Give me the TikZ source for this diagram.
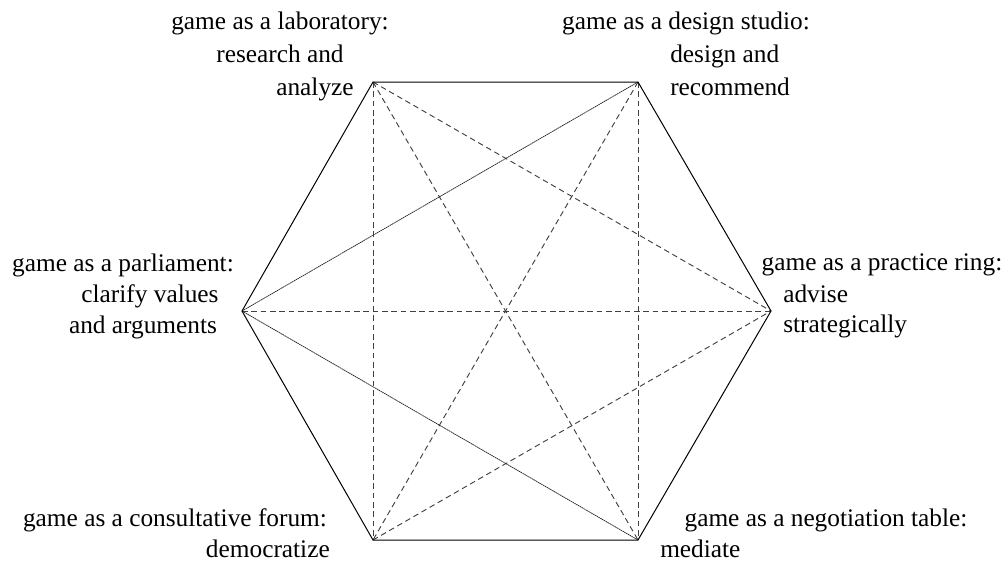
\documentclass[tikz,border=0pt]{standalone}
\usepackage{fontspec}
\setmainfont{Liberation Serif}
\begin{document}
\begin{tikzpicture}[x=0.75pt,y=-0.75pt,
  edge/.style={black,line width=0.75pt},
  dashlink/.style={black!75,line width=0.7pt,dash pattern=on 4.2pt off 2.8pt},
  finelink/.style={black!85,line width=0.55pt,dash pattern=on 1.2pt off 0.4pt},
  lbl/.style={inner sep=0pt,font=\fontsize{19}{23}\selectfont}]
\useasboundingbox (0,0) rectangle (1008,562);
\coordinate (TL) at (373,82);
\coordinate (TR) at (638,82);
\coordinate (R) at (771,311);
\coordinate (BR) at (638,540);
\coordinate (BL) at (373,540);
\coordinate (L) at (242,311);
% diagonals
\draw[dashlink] (TL) -- (BL);
\draw[dashlink] (TR) -- (BR);
\draw[dashlink] (TL) -- (R);
\draw[dashlink] (TL) -- (BR);
\draw[dashlink] (TR) -- (BL);
\draw[dashlink] (BL) -- (R);
\draw[dashlink] (L) -- (R);
\draw[finelink] (L) -- (TR);
\draw[finelink] (L) -- (BR);
% hexagon
\draw[edge] (TL) -- (TR) -- (R) -- (BR) -- (BL) -- (L) -- cycle;
% labels
\node[lbl,anchor=base] (lab1) at (280,29) {game as a laboratory:};
\node[lbl,anchor=base] (lab2) at (280,62) {research and};
\node[lbl,anchor=base] (lab3) at (315,95) {analyze};
\node[lbl,anchor=base] (des1) at (686,29) {game as a design studio:};
\node[lbl,anchor=base west] (des2) at (670,62) {design and};
\node[lbl,anchor=base west] (des3) at (670,95) {recommend};
\node[lbl,anchor=base] (par1) at (123,271) {game as a parliament:};
\node[lbl,anchor=base] (par2) at (150,302) {clarify values};
\node[lbl,anchor=base] (par3) at (143,333) {and arguments};
\node[lbl,anchor=base] (pr1) at (882,270) {game as a practice ring:};
\node[lbl,anchor=base west] (pr2) at (783,302) {advise};
\node[lbl,anchor=base west] (pr3) at (783,332) {strategically};
\node[lbl,anchor=base] (con1) at (175,526) {game as a consultative forum:};
\node[lbl,anchor=base east] (con2) at (330,557) {democratize};
\node[lbl,anchor=base] (neg1) at (826,526) {game as a negotiation table:};
\node[lbl,anchor=base west] (neg2) at (660,557) {mediate};
\end{tikzpicture}
\end{document}
